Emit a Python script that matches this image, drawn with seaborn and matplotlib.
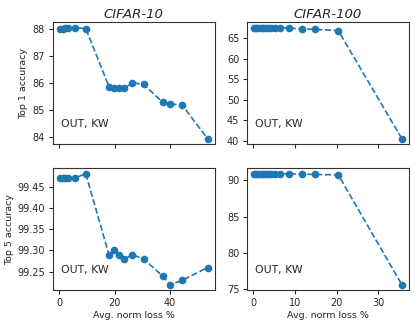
import numpy as np
import pandas as pd
import matplotlib
matplotlib.use('Agg')
import matplotlib.pyplot as plt
import seaborn as sns

# CIFAR-10
c10_loss = [0.3, 1.2, 2.0, 3.0, 5.6, 9.6, 18.0, 19.8, 21.6, 23.6, 26.5, 30.6, 37.4, 40.2, 44.5, 53.7]
c10_top1 = [88.02, 88.02, 88.03, 88.04, 88.05, 88.02, 85.86, 85.82, 85.81, 85.80, 86.01, 85.94, 85.28, 85.22, 85.17, 83.93]
c10_top5 = [99.47, 99.47, 99.47, 99.47, 99.47, 99.48, 99.29, 99.30, 99.29, 99.28, 99.29, 99.28, 99.24, 99.22, 99.23, 99.26]

# CIFAR-100
c100_loss = [0.2, 0.7, 1.2, 1.8, 2.4, 3.0, 3.6, 4.3, 5.1, 6.4, 8.5, 11.7, 14.8, 20.4, 35.7]
c100_top1 = [67.5, 67.5, 67.5, 67.5, 67.5, 67.5, 67.5, 67.5, 67.5, 67.5, 67.4, 67.2, 67.1, 66.8, 40.6]
c100_top5 = [90.9, 90.9, 90.9, 90.9, 90.9, 90.9, 90.9, 90.9, 90.9, 90.9, 90.9, 90.85, 90.8, 90.75, 75.6]

sns.set_style('ticks')
plt.rcParams['font.family'] = ['DejaVu Sans']

fig = plt.figure(figsize=(4.15, 3.26), dpi=100)
ax1 = fig.add_axes([0.127, 0.558, 0.391, 0.374])
ax2 = fig.add_axes([0.595, 0.558, 0.391, 0.374])
ax3 = fig.add_axes([0.127, 0.110, 0.391, 0.374])
ax4 = fig.add_axes([0.595, 0.110, 0.391, 0.374])

panels = [
    (ax1, c10_loss, c10_top1),
    (ax2, c100_loss, c100_top1),
    (ax3, c10_loss, c10_top5),
    (ax4, c100_loss, c100_top5),
]
for ax, x, y in panels:
    df = pd.DataFrame({'loss': x, 'acc': y})
    sns.lineplot(data=df, x='loss', y='acc', ax=ax, color='#1f77b4',
                 linestyle='--', marker='o', markersize=5.5, markeredgewidth=0,
                 linewidth=1.2, sort=False)
    ax.text(0.05, 0.14, 'OUT, KW', transform=ax.transAxes, fontsize=7.8)
    ax.tick_params(labelsize=7, length=3, width=0.8, pad=2.5)
    for s in ax.spines.values():
        s.set_color('#333333')
        s.set_linewidth(0.8)
    ax.set_xlabel('')
    ax.set_ylabel('')

ax1.set_xticks([0, 20, 40])
ax3.set_xticks([0, 20, 40])
ax1.set_xticklabels([])
ax2.set_xticks([0, 10, 20, 30])
ax4.set_xticks([0, 10, 20, 30])
ax2.set_xticklabels([])

ax1.set_yticks([84, 85, 86, 87, 88])
ax2.set_yticks([40, 45, 50, 55, 60, 65])
ax3.set_yticks([99.25, 99.30, 99.35, 99.40, 99.45])
ax3.set_yticklabels(['99.25', '99.30', '99.35', '99.40', '99.45'])
ax4.set_yticks([75, 80, 85, 90])

ax1.set_title('CIFAR-10', style='italic', fontsize=9.5, pad=3)
ax2.set_title('CIFAR-100', style='italic', fontsize=9.5, pad=3)
ax1.set_ylabel('Top 1 accuracy', fontsize=6.8, labelpad=3)
ax3.set_ylabel('Top 5 accuracy', fontsize=6.8, labelpad=2)
ax3.set_xlabel('Avg. norm loss %', fontsize=6.8, labelpad=2)
ax4.set_xlabel('Avg. norm loss %', fontsize=6.8, labelpad=2)

fig.savefig('out.png', dpi=100, facecolor='white')
